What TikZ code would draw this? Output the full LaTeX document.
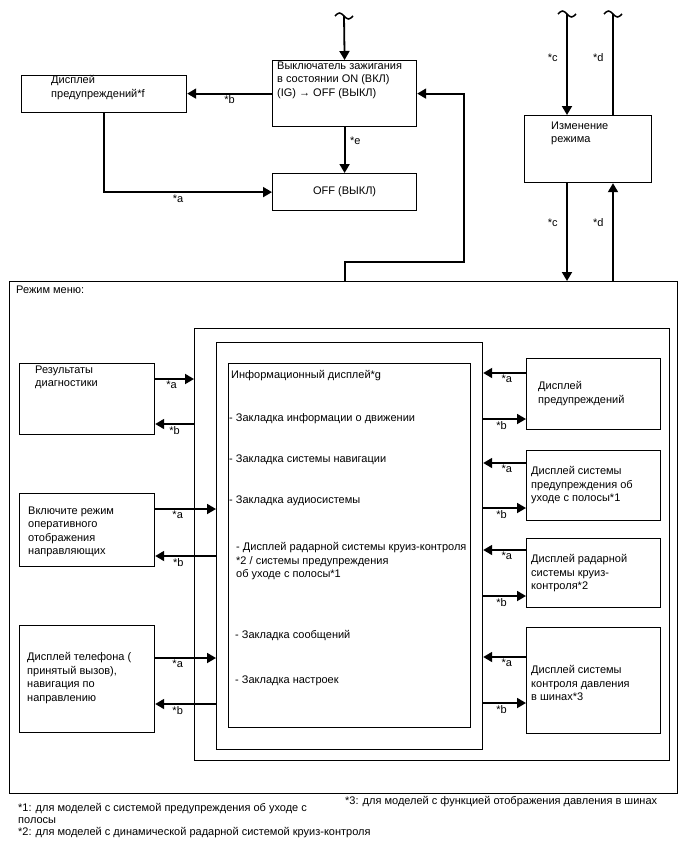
\documentclass[tikz,border=0pt]{standalone}
\usepackage{fontspec}
\setmainfont{Liberation Sans}
\usetikzlibrary{arrows.meta,calc}

\begin{document}
\begin{tikzpicture}[x=1pt,y=-1pt,>={Triangle[length=9pt,width=10pt]},
  box/.style={draw,line width=1.2pt,anchor=north west,inner sep=0pt},
  txt/.style={anchor=north west,inner sep=0pt,align=left,
    font=\fontsize{11}{13.5}\selectfont,execute at begin node=\strut},
  wire/.style={line width=1.8pt},
  conn/.style={wire,->},
  tag/.style={font=\fontsize{11}{13}\selectfont,inner sep=1.5pt},
  wavyend/.pic={\draw[line width=1.5pt] (-9,0) sin (-4.5,-3) cos (0,0)
    sin (4.5,3) cos (9,0);}]
\useasboundingbox (0,0) rectangle (688,852);

% Ignition switch, warning display and OFF state
\node[box,minimum width=144,minimum height=66] (ig) at (272,60) {};
\node[txt] (igtxt) at (277,61.5)
 {Выключатель зажигания\\в состоянии ON (ВКЛ)\\(IG) → OFF (ВЫКЛ)};
\node[box,minimum width=165,minimum height=37] (warn) at (21,75) {};
\node[txt] (warntxt) at (51,75.5) {Дисплей\\предупреждений*f};
\node[box,minimum width=144,minimum height=37,
 font=\fontsize{11}{13.5}\selectfont] (off) at (272,173) {OFF (ВЫКЛ)};
\node[box,minimum width=127,minimum height=67] (mode) at (524,115) {};
\node[txt] (modetxt) at (551,121.5) {Изменение\\режима};

% Menu mode frame and nested frames
\node[box,minimum width=668,minimum height=512] (menu) at (9,281) {};
\node[txt] (menutxt) at (16,283.5) {Режим меню:};
\node[box,minimum width=475,minimum height=432] (outer) at (194,328) {};
\node[box,minimum width=266,minimum height=407] (mid) at (216,342) {};
\node[box,minimum width=242,minimum height=364] (info) at (228,363) {};
\node[txt] (info0) at (231,368.5) {Информационный дисплей*g};
\node[txt] (info1) at (229,411.5) {- Закладка информации о движении};
\node[txt] (info2) at (229,452.5) {- Закладка системы навигации};
\node[txt] (info3) at (229,493.5) {- Закладка аудиосистемы};
\node[txt] (info4) at (236,542.5)
 {- Дисплей радарной системы круиз-контроля\\*2 / системы предупреждения\\об уходе с полосы*1};
\node[txt] (info5) at (235,628.5) {- Закладка сообщений};
\node[txt] (info6) at (235,673.5) {- Закладка настроек};

% Left column
\node[box,minimum width=135,minimum height=71] (diag) at (19,363) {};
\node[txt] (diagtxt) at (35,365.5) {Результаты\\диагностики};
\node[box,minimum width=135,minimum height=73] (guide) at (19,493) {};
\node[txt] (guidetxt) at (28,506.5)
 {Включите режим\\оперативного\\отображения\\направляющих};
\node[box,minimum width=135,minimum height=107] (phone) at (19,625) {};
\node[txt] (phonetxt) at (27,652.5)
 {Дисплей телефона (\\принятый вызов),\\навигация по\\направлению};

% Right column
\node[box,minimum width=134,minimum height=71] (warnb) at (526,358) {};
\node[txt] (warnbtxt) at (538,381.5) {Дисплей\\предупреждений};
\node[box,minimum width=134,minimum height=70] (lane) at (526,450) {};
\node[txt] (lanetxt) at (531,466.5)
 {Дисплей системы\\предупреждения об\\уходе с полосы*1};
\node[box,minimum width=134,minimum height=69] (radar) at (526,538) {};
\node[txt] (radartxt) at (531,554.5)
 {Дисплей радарной\\системы круиз-\\контроля*2};
\node[box,minimum width=134,minimum height=106] (tire) at (526,627) {};
\node[txt] (tiretxt) at (531,665.5)
 {Дисплей системы\\контроля давления\\в шинах*3};

% Footnotes
\node[txt,font=\fontsize{11}{12}\selectfont] (foot12) at (18,803.5)
 {*1: для моделей с системой предупреждения об уходе с\\полосы\\*2: для моделей с динамической радарной системой круиз-контроля};
\node[txt] (foot3) at (345,795)
 {*3: для моделей с функцией отображения давления в шинах};

% Connectors of the upper part
\coordinate (igtop) at (344,16);
\coordinate (ctop) at (567,14);
\coordinate (dtop) at (613,14);
\pic at (igtop) {wavyend};
\pic at (ctop) {wavyend};
\pic at (dtop) {wavyend};
\draw[conn] (igtop) -- (ig.north);
\draw[conn] (ig.west) -- (ig.west -| warn.east) node[tag,midway,below] {*b};
\draw[conn] (warn.south) |- (off.west) node[tag,pos=0.72,below] {*a};
\draw[conn] (ig.south) -- (off.north) node[tag,pos=0.3,right=3pt] {*e};
\draw[conn] (ig.south |- menu.north) -- ++(0,-19) -| ([xshift=47pt]ig.east)
 -- (ig.east);
\draw[conn] (ctop) -- (ctop |- mode.north) node[tag,pos=0.43,left=7pt] {*c};
\draw[wire] (dtop |- mode.north) -- (dtop) node[tag,pos=0.57,left=7pt] {*d};
\draw[conn] (ctop |- mode.south) -- (ctop |- menu.north)
 node[tag,pos=0.4,left=7pt] {*c};
\draw[conn] (dtop |- menu.north) -- (dtop |- mode.south)
 node[tag,pos=0.6,left=7pt] {*d};

% Connectors of the left column
\path (diag.north east) ++(0,16) coordinate (diaga) ++(0,45) coordinate (diagb);
\path (guide.north east) ++(0,16) coordinate (guidea) ++(0,47) coordinate (guideb);
\path (phone.north east) ++(0,33) coordinate (phonea) ++(0,46) coordinate (phoneb);
\draw[conn] (diaga) -- (diaga -| outer.west) node[tag,pos=0.42,below] {*a};
\draw[conn] (diagb -| outer.west) -- (diagb) node[tag,pos=0.5,below] {*b};
\draw[conn] (guidea) -- (guidea -| mid.west) node[tag,pos=0.37,below] {*a};
\draw[conn] (guideb -| mid.west) -- (guideb) node[tag,pos=0.62,below] {*b};
\draw[conn] (phonea) -- (phonea -| mid.west) node[tag,pos=0.37,below] {*a};
\draw[conn] (phoneb -| mid.west) -- (phoneb) node[tag,pos=0.63,below] {*b};

% Connectors of the right column
\path (warnb.north west) ++(0,15) coordinate (warnba) ++(0,46) coordinate (warnbb);
\path (lane.north west) ++(0,13) coordinate (lanea) ++(0,45) coordinate (laneb);
\path (radar.north west) ++(0,12) coordinate (radara) ++(0,46) coordinate (radarb);
\path (tire.north west) ++(0,30) coordinate (tirea) ++(0,46) coordinate (tireb);
\foreach \side in {warnb,lane,radar,tire}{
  \draw[conn] (\side a) -- (\side a -| mid.east) node[tag,pos=0.45,below] {*a};
  \draw[conn] (\side b -| mid.east) -- (\side b) node[tag,pos=0.43,below] {*b};
}
\end{tikzpicture}
\end{document}
